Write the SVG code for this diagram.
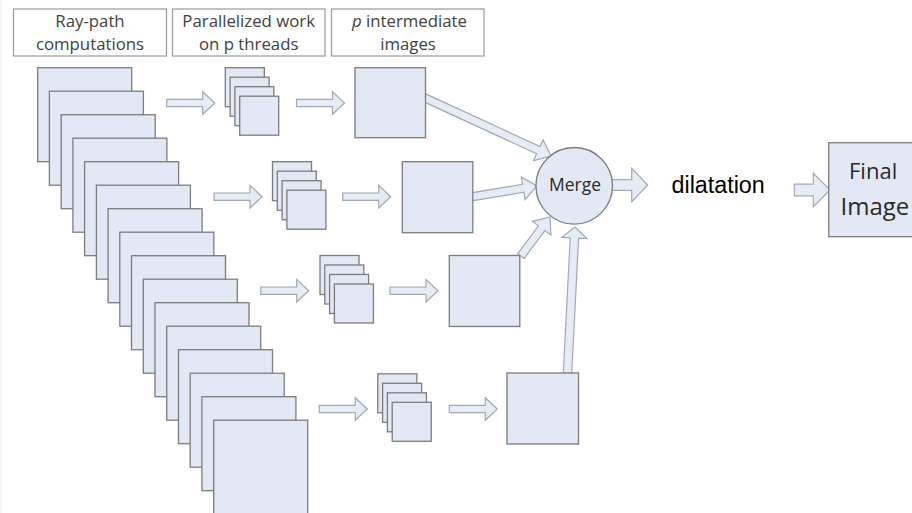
<svg xmlns="http://www.w3.org/2000/svg" xmlns:xlink="http://www.w3.org/1999/xlink" width="912" height="513" viewBox="0 0 912 513">
  <style>
    .hdr { fill: #ffffff; stroke: #9a9a9a; stroke-width: 1.2; }
    .hdr-t { font-family: "Open Sans", "Noto Sans", sans-serif; font-size: 16.8px; fill: #404040; text-anchor: middle; }
    .pg { fill: #e3e9f4; stroke: #7c7c7c; stroke-width: 1.3; }
    .arr { fill: #e6ecf6; stroke: #a2a8b2; stroke-width: 1.2; stroke-linejoin: miter; }
    .lbl { font-family: "Open Sans", "Noto Sans", sans-serif; fill: #2a2a2a; }
  </style>
  <defs>
    <!-- straight block arrow, 48px long, pointing right -->
    <path id="ra" d="M0,-3.7 H36 V-11.3 L48,0 L36,11.3 V3.7 H0 Z"/>
    <!-- four small overlapping pages -->
    <g id="stack">
      <rect class="pg" x="0" y="0" width="39" height="39"/>
      <rect class="pg" x="4.8" y="9.5" width="39" height="39"/>
      <rect class="pg" x="9.6" y="19" width="39" height="39"/>
      <rect class="pg" x="14.4" y="28.5" width="39" height="39"/>
    </g>
  </defs>

  <rect x="0" y="0" width="912" height="513" fill="#ffffff"/>
  <line x1="1" y1="0" x2="1" y2="513" stroke="#ececec" stroke-width="1"/>

  <!-- column headings -->
  <g id="head-raypath">
    <rect class="hdr" x="13.5" y="9" width="153" height="47"/>
    <text class="hdr-t" x="90" y="27">Ray-path</text>
    <text class="hdr-t" x="90" y="50">computations</text>
  </g>
  <g id="head-threads">
    <rect class="hdr" x="172.5" y="9" width="152.5" height="47"/>
    <text class="hdr-t" x="248.7" y="27">Parallelized work</text>
    <text class="hdr-t" x="248.7" y="50">on p threads</text>
  </g>
  <g id="head-images">
    <rect class="hdr" x="331.5" y="9" width="152.5" height="47"/>
    <text class="hdr-t" x="409.5" y="27"><tspan font-style="italic">p</tspan> intermediate</text>
    <text class="hdr-t" x="408" y="50">images</text>
  </g>

  <!-- connectors -->
  <g id="connectors">
    <use href="#ra" class="arr" transform="translate(166.7,103)"/>
    <use href="#ra" class="arr" transform="translate(296.5,103)"/>
    <use href="#ra" class="arr" transform="translate(214,196.7)"/>
    <use href="#ra" class="arr" transform="translate(342.7,196.7)"/>
    <use href="#ra" class="arr" transform="translate(260.7,290.7)"/>
    <use href="#ra" class="arr" transform="translate(390,290.7)"/>
    <use href="#ra" class="arr" transform="translate(319.3,409)"/>
    <use href="#ra" class="arr" transform="translate(449.3,409)"/>
    <polygon class="arr" points="422.33,101.13 536.61,153.77 533.47,160.59 551,156 543.09,139.69 539.95,146.51 425.67,93.87"/>
    <polygon class="arr" points="471.66,200.95 523.85,192.25 525.08,199.64 537,186 521.30,176.96 522.53,184.35 470.34,193.05"/>
    <polygon class="arr" points="524.21,258.39 544.86,230.62 550.88,235.09 550,217 532.42,221.37 538.44,225.84 517.79,253.61"/>
    <polygon class="arr" points="571.70,373.22 578.63,238.20 586.92,238.63 575,227 561.96,237.35 570.24,237.78 563.30,372.78"/>
    <path class="arr" d="M605,179.7 H631.7 V168.3 L647.7,185 L631.7,201.7 V190.3 H605 Z"/>
    <path class="arr" d="M794.3,184.2 H813.3 V173.3 L830,190 L813.3,206.7 V195.8 H794.3 Z"/>
  </g>

  <!-- ray-path computation pages -->
  <g id="raypath-pages">
    <rect class="pg" x="37.7" y="67.7" width="94" height="94"/>
    <rect class="pg" x="49.4" y="91.2" width="94" height="94"/>
    <rect class="pg" x="61.2" y="114.7" width="94" height="94"/>
    <rect class="pg" x="72.9" y="138.2" width="94" height="94"/>
    <rect class="pg" x="84.6" y="161.7" width="94" height="94"/>
    <rect class="pg" x="96.4" y="185.2" width="94" height="94"/>
    <rect class="pg" x="108.1" y="208.7" width="94" height="94"/>
    <rect class="pg" x="119.8" y="232.2" width="94" height="94"/>
    <rect class="pg" x="131.5" y="255.7" width="94" height="94"/>
    <rect class="pg" x="143.3" y="279.2" width="94" height="94"/>
    <rect class="pg" x="155.0" y="302.7" width="94" height="94"/>
    <rect class="pg" x="166.7" y="326.2" width="94" height="94"/>
    <rect class="pg" x="178.5" y="349.7" width="94" height="94"/>
    <rect class="pg" x="190.2" y="373.2" width="94" height="94"/>
    <rect class="pg" x="201.9" y="396.7" width="94" height="94"/>
    <rect class="pg" x="213.7" y="420.2" width="94" height="94"/>
  </g>

  <!-- per-thread work -->
  <g id="threads-1"><use href="#stack" transform="translate(225.3,67.7)"/></g>
  <g id="threads-2"><use href="#stack" transform="translate(272.5,161.7)"/></g>
  <g id="threads-3"><use href="#stack" transform="translate(320,255.5)"/></g>
  <g id="threads-4"><use href="#stack" transform="translate(377.8,373.8)"/></g>

  <!-- intermediate images -->
  <g id="image-1"><rect class="pg" x="355" y="67.7" width="70.5" height="70"/></g>
  <g id="image-2"><rect class="pg" x="402.3" y="161.7" width="70.5" height="71"/></g>
  <g id="image-3"><rect class="pg" x="449.3" y="255.5" width="70.5" height="71"/></g>
  <g id="image-4"><rect class="pg" x="507" y="373" width="71.5" height="71"/></g>

  <!-- merge step -->
  <g id="merge">
    <circle class="pg" cx="574.2" cy="185.8" r="38.3" stroke="#8a8a8a"/>
    <text class="lbl" x="575" y="191" font-size="17.5" text-anchor="middle">Merge</text>
  </g>

  <!-- dilatation step -->
  <g id="dilatation">
    <text x="671.5" y="193.3" font-family="'Liberation Sans', Arial, sans-serif" font-size="23.3" fill="#000000">dilatation</text>
  </g>

  <!-- final output -->
  <g id="final-image">
    <rect class="pg" x="828.7" y="142.7" width="100" height="94"/>
    <text class="lbl" x="849" y="179.3" font-size="22">Final</text>
    <text class="lbl" x="840.5" y="215" font-size="24">Image</text>
  </g>
</svg>
